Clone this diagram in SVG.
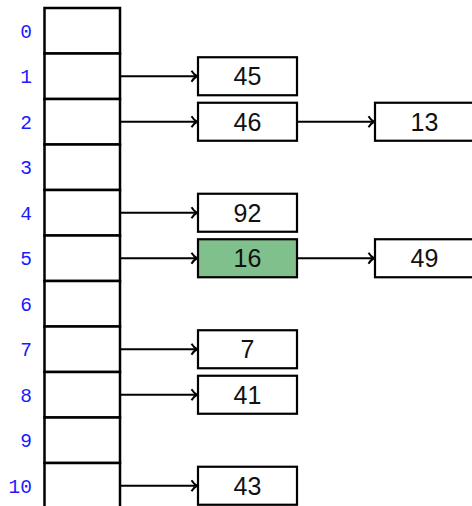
<svg xmlns="http://www.w3.org/2000/svg" width="472" height="506" viewBox="0 0 472 506">
<style>
.cell{fill:#fff;stroke:#000;stroke-width:2.5}
.box{fill:#fff;stroke:#000;stroke-width:2.2}
.hl{fill:#80c08c}
.idx{font-family:"Liberation Mono","DejaVu Sans Mono",monospace;font-size:19.5px;fill:#1a1aff;text-anchor:end}
.val{font-family:"Liberation Sans",Arial,sans-serif;font-size:25px;fill:#111;text-anchor:middle}
.arr{stroke:#000;stroke-width:2;fill:none;marker-end:url(#ah)}
</style>
<defs>
<marker id="ah" markerUnits="userSpaceOnUse" markerWidth="12" markerHeight="14" refX="9" refY="7" orient="auto">
<path d="M3.5,1.5 Q6,5.5 9,7 Q6,8.5 3.5,12.5" fill="none" stroke="#000" stroke-width="2"/>
</marker>
</defs>
<rect width="472" height="506" fill="#fff"/>
<g id="array">
<rect class="cell" x="44.5" y="8" width="75.5" height="45.5"/>
<rect class="cell" x="44.5" y="53.5" width="75.5" height="45.5"/>
<rect class="cell" x="44.5" y="99" width="75.5" height="45.5"/>
<rect class="cell" x="44.5" y="144.5" width="75.5" height="45.5"/>
<rect class="cell" x="44.5" y="190" width="75.5" height="45.5"/>
<rect class="cell" x="44.5" y="235.5" width="75.5" height="45.5"/>
<rect class="cell" x="44.5" y="281" width="75.5" height="45.5"/>
<rect class="cell" x="44.5" y="326.5" width="75.5" height="45.5"/>
<rect class="cell" x="44.5" y="372" width="75.5" height="45.5"/>
<rect class="cell" x="44.5" y="417.5" width="75.5" height="45.5"/>
<rect class="cell" x="44.5" y="463" width="75.5" height="50"/>
</g>
<g id="indices">
<text class="idx" x="32" y="37.5">0</text>
<text class="idx" x="32" y="83">1</text>
<text class="idx" x="32" y="128.5">2</text>
<text class="idx" x="32" y="174">3</text>
<text class="idx" x="32" y="219.5">4</text>
<text class="idx" x="32" y="265">5</text>
<text class="idx" x="32" y="310.5">6</text>
<text class="idx" x="32" y="356">7</text>
<text class="idx" x="32" y="401.5">8</text>
<text class="idx" x="32" y="447">9</text>
<text class="idx" x="32" y="492.5">10</text>
</g>
<g id="connectors">
<line class="arr" x1="121" y1="76.25" x2="197" y2="76.25"/>
<line class="arr" x1="121" y1="121.75" x2="197" y2="121.75"/>
<line class="arr" x1="298" y1="121.75" x2="374" y2="121.75"/>
<line class="arr" x1="121" y1="212.75" x2="197" y2="212.75"/>
<line class="arr" x1="121" y1="258.25" x2="197" y2="258.25"/>
<line class="arr" x1="298" y1="258.25" x2="374" y2="258.25"/>
<line class="arr" x1="121" y1="349.25" x2="197" y2="349.25"/>
<line class="arr" x1="121" y1="394.75" x2="197" y2="394.75"/>
<line class="arr" x1="121" y1="485.75" x2="197" y2="485.75"/>
</g>
<g id="n45"><rect class="box" x="198" y="57.25" width="99" height="38"/><text class="val" x="247.5" y="85.2">45</text></g>
<g id="n46"><rect class="box" x="198" y="102.75" width="99" height="38"/><text class="val" x="247.5" y="130.7">46</text></g>
<g id="n13"><rect class="box" x="375" y="102.75" width="100" height="38"/><text class="val" x="424.5" y="130.7">13</text></g>
<g id="n92"><rect class="box" x="198" y="193.75" width="99" height="38"/><text class="val" x="247.5" y="221.7">92</text></g>
<g id="n16"><rect class="box hl" x="198" y="239.25" width="99" height="38"/><text class="val" x="247.5" y="267.2">16</text></g>
<g id="n49"><rect class="box" x="375" y="239.25" width="100" height="38"/><text class="val" x="424.5" y="267.2">49</text></g>
<g id="n7"><rect class="box" x="198" y="330.25" width="99" height="38"/><text class="val" x="247.5" y="358.2">7</text></g>
<g id="n41"><rect class="box" x="198" y="375.75" width="99" height="38"/><text class="val" x="247.5" y="403.7">41</text></g>
<g id="n43"><rect class="box" x="198" y="466.75" width="99" height="38"/><text class="val" x="247.5" y="494.7">43</text></g>
</svg>
